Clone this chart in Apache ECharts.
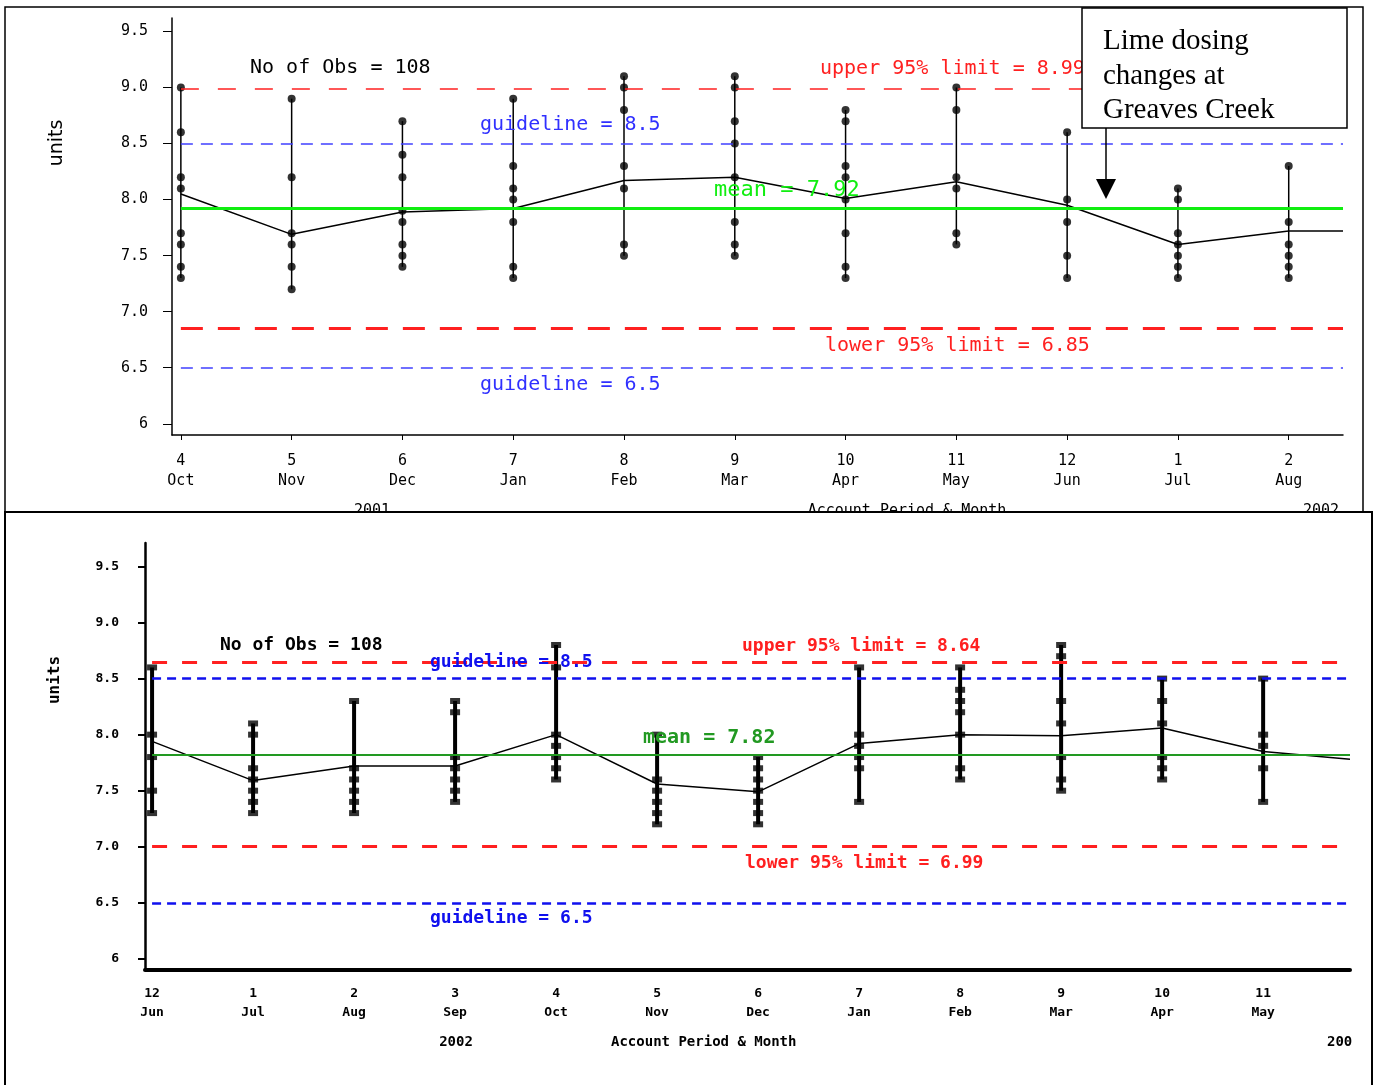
<!DOCTYPE html>
<html lang="en">
<head>
    <meta charset="UTF-8">
    <title>pH control chart</title>
    <script src="https://cdn.jsdelivr.net/npm/echarts@6.0.0/dist/echarts.min.js"></script>
    <style>
        html, body { margin: 0; padding: 0; background: #fff; }
    </style>
</head>
<body>
    <div id="main" style="width: 1374px;height:1085px;"></div>
    <script type="text/javascript">

        // ---- top panel data (2001/2002) ----
        var topPeriods = ['4', '5', '6', '7', '8', '9', '10', '11', '12', '1', '2'];
        var topMonths = ['Oct', 'Nov', 'Dec', 'Jan', 'Feb', 'Mar', 'Apr', 'May', 'Jun', 'Jul', 'Aug'];
        var topObs = [
            [9.0, 8.6, 8.2, 8.1, 7.7, 7.6, 7.4, 7.3],
            [8.9, 8.2, 7.7, 7.6, 7.4, 7.2],
            [8.7, 8.4, 8.2, 7.9, 7.8, 7.6, 7.5, 7.4],
            [8.9, 8.3, 8.1, 8.0, 7.8, 7.4, 7.3],
            [9.1, 9.0, 8.8, 8.3, 8.1, 7.6, 7.5],
            [9.1, 9.0, 8.7, 8.5, 8.2, 7.8, 7.6, 7.5],
            [8.8, 8.7, 8.3, 8.2, 8.0, 7.7, 7.4, 7.3],
            [9.0, 8.8, 8.2, 8.1, 7.7, 7.6],
            [8.6, 8.0, 7.8, 7.5, 7.3],
            [8.1, 8.0, 7.7, 7.6, 7.5, 7.4, 7.3],
            [8.3, 7.8, 7.6, 7.5, 7.4, 7.3]
        ];
        var topMeans = [8.05, 7.69, 7.89, 7.92, 8.17, 8.20, 8.01, 8.16, 7.95, 7.60, 7.72];
        var topTail = 7.72;
        var topRefs = { upper: 8.99, guideHi: 8.5, mean: 7.92, lower: 6.85, guideLo: 6.5 };

        // ---- bottom panel data (2002/2003) ----
        var botPeriods = ['12', '1', '2', '3', '4', '5', '6', '7', '8', '9', '10', '11'];
        var botMonths = ['Jun', 'Jul', 'Aug', 'Sep', 'Oct', 'Nov', 'Dec', 'Jan', 'Feb', 'Mar', 'Apr', 'May'];
        var botObs = [
            [8.6, 8.0, 7.8, 7.5, 7.3],
            [8.1, 8.0, 7.7, 7.6, 7.5, 7.4, 7.3],
            [8.3, 7.7, 7.6, 7.5, 7.4, 7.3],
            [8.3, 8.2, 7.8, 7.7, 7.6, 7.5, 7.4],
            [8.8, 8.6, 8.0, 7.9, 7.8, 7.7, 7.6],
            [8.0, 7.6, 7.5, 7.4, 7.3, 7.2],
            [7.8, 7.7, 7.6, 7.5, 7.4, 7.3, 7.2],
            [8.6, 8.0, 7.9, 7.8, 7.7, 7.4],
            [8.6, 8.4, 8.3, 8.2, 8.0, 7.7, 7.6],
            [8.8, 8.7, 8.3, 8.1, 7.8, 7.6, 7.5],
            [8.5, 8.3, 8.1, 7.8, 7.7, 7.6],
            [8.5, 8.0, 7.9, 7.7, 7.4]
        ];
        var botMeans = [7.94, 7.59, 7.72, 7.72, 8.0, 7.56, 7.49, 7.92, 8.0, 7.99, 8.06, 7.85];
        var botTail = 7.78;
        var botRefs = { upper: 8.65, guideHi: 8.5, mean: 7.82, lower: 7.0, guideLo: 6.5 };

        var yTicks = [6, 6.5, 7, 7.5, 8, 8.5, 9, 9.5];
        var topXMax = 10.49, botXMax = 11.86;

        var mono = '"DejaVu Sans Mono", monospace';

        function points(obs) {
            var out = [];
            obs.forEach(function (vals, i) {
                vals.forEach(function (v) { out.push([i, v]); });
            });
            return out;
        }
        function ranges(obs) {
            return obs.map(function (vals, i) {
                return [i, Math.min.apply(null, vals), Math.max.apply(null, vals)];
            });
        }
        function meanLine(means, xMax, tail) {
            var d = means.map(function (v, i) { return [i, v]; });
            d.push([xMax, tail]);
            return d;
        }
        function idx(n) {
            var a = [];
            for (var i = 0; i < n; i++) a.push(i);
            return a;
        }
        function refLine(v, xMax, color, width, dash) {
            return [
                { coord: [0, v], lineStyle: { color: color, width: width, type: dash } },
                { coord: [xMax, v] }
            ];
        }
        function rangeSeries(gi, obs, w) {
            return {
                type: 'custom',
                xAxisIndex: gi, yAxisIndex: gi,
                encode: { x: 0, y: [1, 2] },
                silent: true,
                renderItem: function (params, api) {
                    var p1 = api.coord([api.value(0), api.value(1)]);
                    var p2 = api.coord([api.value(0), api.value(2)]);
                    return {
                        type: 'line',
                        shape: { x1: p1[0], y1: p1[1], x2: p2[0], y2: p2[1] },
                        style: { stroke: '#000', lineWidth: w }
                    };
                },
                data: ranges(obs)
            };
        }
        function txt(s, x, y, font, color, opt) {
            var el = {
                type: 'text', x: x, y: y, z: 100,
                style: { text: s, font: font, fill: color, align: 'left', verticalAlign: 'middle' }
            };
            if (opt) {
                for (var k in opt) {
                    if (k === 'style') Object.assign(el.style, opt.style); else el[k] = opt[k];
                }
            }
            return el;
        }

        var myChart = echarts.init(document.getElementById('main'));

        var option = {
            animation: false,
            backgroundColor: '#fff',
            grid: [
                { left: 172, top: 18, width: 1171, height: 417 },
                { left: 145, top: 543, width: 1205, height: 427 }
            ],
            xAxis: [
                {
                    type: 'value', gridIndex: 0, min: -0.08, max: topXMax,
                    splitLine: { show: false },
                    axisLine: { onZero: false, lineStyle: { color: '#000', width: 1.5 } },
                    axisTick: { customValues: idx(11), length: 5, lineStyle: { color: '#000' } },
                    axisLabel: {
                        customValues: idx(11), margin: 16, color: '#000',
                        fontFamily: mono, fontSize: 15, lineHeight: 20,
                        formatter: function (v) { return topPeriods[v] + '\n' + topMonths[v]; }
                    }
                },
                {
                    type: 'value', gridIndex: 1, min: -0.07, max: botXMax,
                    splitLine: { show: false },
                    axisLine: { onZero: false, lineStyle: { color: '#000', width: 4 } },
                    axisTick: { show: false },
                    axisLabel: {
                        customValues: idx(12), margin: 14, color: '#000',
                        fontFamily: mono, fontSize: 13, fontWeight: 'bold', lineHeight: 19,
                        formatter: function (v) { return botPeriods[v] + '\n' + botMonths[v]; }
                    }
                }
            ],
            yAxis: [
                {
                    type: 'value', gridIndex: 0, min: 5.9, max: 9.62,
                    splitLine: { show: false },
                    axisLine: { show: true, onZero: false, lineStyle: { color: '#000', width: 1.5 } },
                    axisTick: { show: true, customValues: yTicks, length: 9, lineStyle: { color: '#000' } },
                    axisLabel: {
                        customValues: yTicks, margin: 24, color: '#000',
                        fontFamily: mono, fontSize: 15,
                        formatter: function (v) { return v === 6 ? '6' : v.toFixed(1); }
                    }
                },
                {
                    type: 'value', gridIndex: 1, min: 5.9, max: 9.71,
                    splitLine: { show: false },
                    axisLine: { show: true, onZero: false, lineStyle: { color: '#000', width: 2.5 } },
                    axisTick: { show: true, customValues: yTicks, length: 7, lineStyle: { color: '#000', width: 2 } },
                    axisLabel: {
                        customValues: yTicks, margin: 26, color: '#000',
                        fontFamily: mono, fontSize: 13, fontWeight: 'bold',
                        formatter: function (v) { return v === 6 ? '6' : v.toFixed(1); }
                    }
                }
            ],
            series: [
                // top panel
                rangeSeries(0, topObs, 1.5),
                {
                    type: 'line', xAxisIndex: 0, yAxisIndex: 0, symbol: 'none', silent: true,
                    lineStyle: { color: '#000', width: 1.5 },
                    data: meanLine(topMeans, topXMax, topTail),
                    markLine: {
                        symbol: 'none', silent: true, label: { show: false },
                        data: [
                            refLine(topRefs.upper, topXMax, '#ff2020', 1.5, [18, 19]),
                            refLine(topRefs.guideHi, topXMax, '#4040ff', 1.5, [12, 8]),
                            refLine(topRefs.mean, topXMax, '#10ee10', 3, 'solid'),
                            refLine(topRefs.lower, topXMax, '#ff2020', 3, [22, 15]),
                            refLine(topRefs.guideLo, topXMax, '#4040ff', 1.5, [12, 8])
                        ]
                    }
                },
                {
                    type: 'scatter', xAxisIndex: 0, yAxisIndex: 0, symbol: 'circle', symbolSize: 8,
                    itemStyle: { color: '#000' }, silent: true,
                    data: points(topObs)
                },
                // bottom panel
                rangeSeries(1, botObs, 4),
                {
                    type: 'line', xAxisIndex: 1, yAxisIndex: 1, symbol: 'none', silent: true,
                    lineStyle: { color: '#000', width: 1.5 },
                    data: meanLine(botMeans, botXMax, botTail),
                    markLine: {
                        symbol: 'none', silent: true, label: { show: false },
                        data: [
                            refLine(botRefs.upper, botXMax, '#ff2020', 3, [15, 15]),
                            refLine(botRefs.guideHi, botXMax, '#1010ee', 2.5, [9, 6]),
                            refLine(botRefs.mean, botXMax, '#229922', 2, 'solid'),
                            refLine(botRefs.lower, botXMax, '#ff2020', 3, [15, 15]),
                            refLine(botRefs.guideLo, botXMax, '#1010ee', 2.5, [9, 6])
                        ]
                    }
                },
                {
                    type: 'scatter', xAxisIndex: 1, yAxisIndex: 1, symbol: 'rect', symbolSize: [10, 6],
                    itemStyle: { color: '#000' }, silent: true,
                    data: points(botObs)
                }
            ],
            graphic: [
                // top panel texts
                txt('No of Obs = 108', 250, 68, '20px ' + mono, '#000'),
                txt('upper 95% limit = 8.99', 820, 69, '20px ' + mono, '#ff2020'),
                txt('guideline = 8.5', 480, 125, '20px ' + mono, '#3030ff'),
                txt('mean = 7.92', 714, 190, '22px ' + mono, '#10ee10'),
                txt('lower 95% limit = 6.85', 825, 346, '20px ' + mono, '#ff2020'),
                txt('guideline = 6.5', 480, 385, '20px ' + mono, '#3030ff'),
                txt('units', 57, 143, '19px "DejaVu Sans", sans-serif', '#000',
                    { rotation: Math.PI / 2, style: { align: 'center' } }),
                txt('2001', 372, 511, '15px ' + mono, '#000', { style: { align: 'center' } }),
                txt('Account Period & Month', 907, 511, '15px ' + mono, '#000', { style: { align: 'center' } }),
                txt('2002', 1321, 511, '15px ' + mono, '#000', { style: { align: 'center' } }),

                // bottom panel texts
                txt('No of Obs = 108', 220, 645, 'bold 18px ' + mono, '#000'),
                txt('guideline = 8.5', 430, 662, 'bold 18px ' + mono, '#1010ee'),
                txt('upper 95% limit = 8.64', 742, 646, 'bold 18px ' + mono, '#ff2020'),
                txt('mean = 7.82', 643, 738, 'bold 20px ' + mono, '#229922'),
                txt('lower 95% limit = 6.99', 745, 863, 'bold 18px ' + mono, '#ff2020'),
                txt('guideline = 6.5', 430, 918, 'bold 18px ' + mono, '#1010ee'),
                txt('units', 55, 680, 'bold 16px ' + mono, '#000',
                    { rotation: Math.PI / 2, style: { align: 'center' } }),
                txt('2002', 456, 1042, 'bold 14px ' + mono, '#000', { style: { align: 'center' } }),
                txt('Account Period & Month', 611, 1042, 'bold 14px ' + mono, '#000'),
                txt('2003', 1327, 1042, 'bold 14px ' + mono, '#000'),

                // white strip that hides the lower half of the top panel's footer text
                { type: 'rect', z: 101, shape: { x: 6, y: 513, width: 1365, height: 14 }, style: { fill: '#fff' } },
                // panel frames
                { type: 'rect', z: 102, shape: { x: 5, y: 7, width: 1358, height: 505 },
                  style: { fill: 'none', stroke: '#000', lineWidth: 1.5 } },
                { type: 'rect', z: 102, shape: { x: 5, y: 512, width: 1367, height: 580 },
                  style: { fill: 'none', stroke: '#000', lineWidth: 2 } },
                { type: 'rect', z: 102, shape: { x: 1352, y: 1030, width: 19, height: 24 }, style: { fill: '#fff' } },

                // annotation box and arrow
                { type: 'rect', z: 103, shape: { x: 1082, y: 8, width: 265, height: 120 },
                  style: { fill: '#fff', stroke: '#000', lineWidth: 1.5 } },
                txt('Lime dosing', 1103, 41, '29px "Liberation Serif", serif', '#000', { z: 104 }),
                txt('changes at', 1103, 76, '29px "Liberation Serif", serif', '#000', { z: 104 }),
                txt('Greaves Creek', 1103, 110, '29px "Liberation Serif", serif', '#000', { z: 104 }),
                { type: 'line', z: 103, shape: { x1: 1106, y1: 128, x2: 1106, y2: 182 },
                  style: { stroke: '#000', lineWidth: 1.5 } },
                { type: 'polygon', z: 103, shape: { points: [[1096, 179], [1116, 179], [1106, 199]] },
                  style: { fill: '#000' } }
            ]
        };

        myChart.setOption(option);
    </script>
</body>
</html>
